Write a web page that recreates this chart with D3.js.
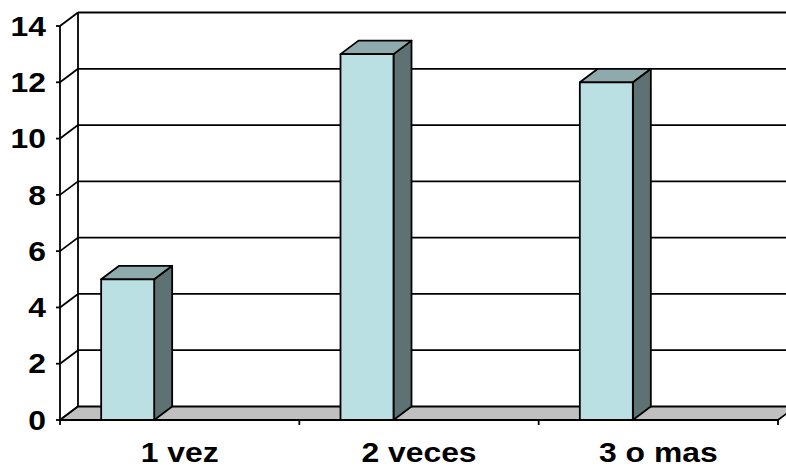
<!DOCTYPE html>
<html>
<head>
<meta charset="utf-8">
<script src="https://cdn.jsdelivr.net/npm/d3@7"></script>
<style>
  html, body { margin: 0; padding: 0; background: #fff; }
  svg { display: block; }
  text { font-family: "Liberation Sans", Arial, sans-serif; font-weight: bold; fill: #000; }
</style>
</head>
<body>
<svg id="chart" width="786" height="467"></svg>
<script>
// Data
const categories = ["1 vez", "2 veces", "3 o mas"];
const values = [5, 13, 12];
const yTicks = [0, 2, 4, 6, 8, 10, 12, 14];

// Layout
const W = 786, H = 467;
const plotLeft = 60, plotRight = 778;
const yBottom = 420, yTop = 26;
const depthX = 18, depthY = -13.5;   // oblique offset of the back wall
const barShift = 52;                 // bars sit left of their category centre
const textStretch = 1.18;            // horizontally stretched lettering
const fontSize = 27;

const colFront = "#BBE0E3", colTop = "#8EAAAC", colSide = "#5E7274", colFloor = "#C0C0C0";

const svg = d3.select("#chart");

const y = d3.scaleLinear().domain([0, 14]).range([yBottom, yTop]);
const x = d3.scaleBand().domain(categories).range([plotLeft, plotRight]);
const gap = 1 - 53 / x.step();
const xBar = d3.scaleBand().domain(categories).range([plotLeft, plotRight])
  .paddingInner(gap).paddingOuter(gap / 2);

const line = (x1, y1, x2, y2, w = 1.8) =>
  svg.append("line").attr("x1", x1).attr("y1", y1).attr("x2", x2).attr("y2", y2)
    .attr("stroke", "#000").attr("stroke-width", w);

// Back wall gridlines
yTicks.filter(t => t > 0).forEach(t => {
  line(plotLeft + depthX, y(t) + depthY, W + 20, y(t) + depthY);
});
// Back wall left edge
line(plotLeft + depthX, y(14) + depthY, plotLeft + depthX, y(0) + depthY);

// Side wall diagonals
yTicks.forEach(t => {
  line(plotLeft, y(t), plotLeft + depthX, y(t) + depthY);
});

// Floor
svg.append("polygon")
  .attr("points", [
    [plotLeft, y(0)], [plotLeft + depthX, y(0) + depthY],
    [plotRight + depthX, y(0) + depthY], [plotRight, y(0)]
  ].map(p => p.join(",")).join(" "))
  .attr("fill", colFloor).attr("stroke", "#000").attr("stroke-width", 1.8)
  .attr("stroke-linejoin", "round");

// Front value axis with outward ticks
line(plotLeft, y(14), plotLeft, y(0));
yTicks.forEach(t => line(plotLeft - 4, y(t), plotLeft, y(t)));

// Category axis ticks at band boundaries
[plotLeft, ...categories.map(c => x(c) + x.step())].forEach(px => {
  line(px, y(0), px, y(0) + 5);
});

// Bars (front, top, side faces)
const bars = svg.append("g");
categories.forEach((c, i) => {
  const bx = xBar(c) - barShift;
  const bw = xBar.bandwidth();
  const yv = y(values[i]), y0 = y(0);
  const g = bars.append("g").attr("stroke", "#000").attr("stroke-width", 1.8)
    .attr("stroke-linejoin", "round");
  g.append("polygon")
    .attr("points", [[bx + bw, yv], [bx + bw + depthX, yv + depthY],
      [bx + bw + depthX, y0 + depthY], [bx + bw, y0]].map(p => p.join(",")).join(" "))
    .attr("fill", colSide);
  g.append("polygon")
    .attr("points", [[bx, yv], [bx + depthX, yv + depthY],
      [bx + bw + depthX, yv + depthY], [bx + bw, yv]].map(p => p.join(",")).join(" "))
    .attr("fill", colTop);
  g.append("rect")
    .attr("x", bx).attr("y", yv).attr("width", bw).attr("height", y0 - yv)
    .attr("fill", colFront);
});

// Value axis labels
yTicks.forEach(t => {
  svg.append("text")
    .attr("transform", `translate(46,${y(t)}) scale(${textStretch},1)`)
    .attr("text-anchor", "end")
    .attr("dy", "0.36em")
    .attr("font-size", fontSize)
    .text(t);
});

// Category labels
categories.forEach(c => {
  svg.append("text")
    .attr("transform", `translate(${x(c) + x.bandwidth() / 2},462) scale(${textStretch},1)`)
    .attr("text-anchor", "middle")
    .attr("font-size", fontSize)
    .text(c);
});
</script>
</body>
</html>
